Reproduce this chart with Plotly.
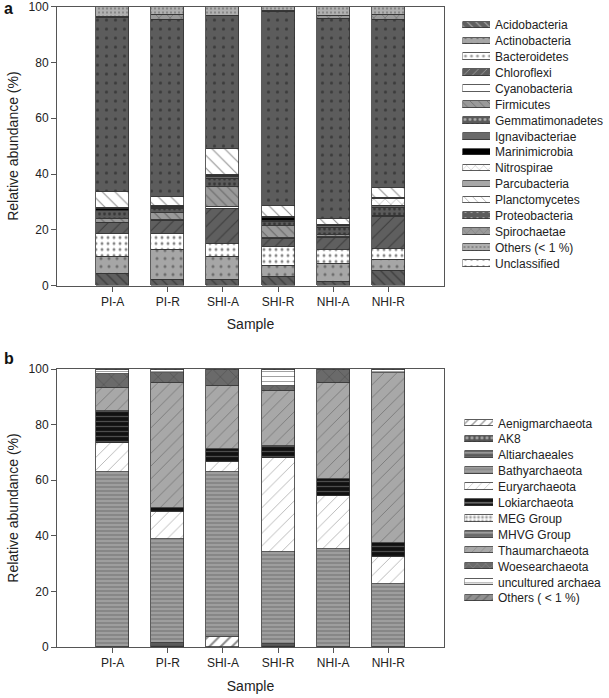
import plotly.graph_objects as go

samples = ["PI-A", "PI-R", "SHI-A", "SHI-R", "NHI-A", "NHI-R"]
y_ticks = [0, 20, 40, 60, 80, 100]

# ---- panel a : bacterial phyla (%), order PI-A, PI-R, SHI-A, SHI-R, NHI-A, NHI-R
acidobacteria = [4.4, 2.4, 2.4, 3.2, 1.5, 5.6]
actinobacteria = [6.2, 10.4, 8.0, 4.2, 6.3, 3.9]
bacteroidetes = [8.1, 6.0, 4.8, 6.8, 5.3, 3.9]
chloroflexi = [3.8, 4.6, 12.5, 2.6, 4.2, 11.5]
cyanobacteria = [0.3, 0.4, 0.5, 0.4, 0.3, 0.2]
firmicutes = [1.4, 2.4, 7.5, 4.5, 0.8, 0.2]
gemmatimonadetes = [2.6, 1.5, 2.6, 1.2, 2.5, 2.8]
ignavibacteriae = [0.3, 0.4, 0.8, 0.3, 0.6, 0.6]
marinimicrobia = [0.5, 0.2, 0.2, 1.4, 0.1, 0.1]
nitrospirae = [0.2, 0.2, 0.2, 0.1, 0.1, 2.3]
parcubacteria = [0.2, 0.3, 0.5, 0.1, 0.2, 0.4]
planctomycetes = [5.6, 3.0, 9.2, 3.8, 2.2, 3.7]
proteobacteria = [62.4, 63.4, 47.4, 69.6, 71.6, 60.0]
spirochaetae = [0.5, 2.1, 0.3, 0.2, 1.0, 2.0]
others_a = [3.5, 2.7, 3.1, 1.6, 3.3, 2.8]
unclassified = [0.0, 0.0, 0.0, 0.0, 0.0, 0.0]

# ---- panel b : archaeal groups (%)
aenigmarchaeota = [0.0, 0.0, 3.5, 0.0, 0.0, 0.0]
ak8 = [0.0, 0.0, 0.0, 0.0, 0.0, 0.0]
altiarchaeales = [0.0, 1.5, 0.0, 1.1, 0.0, 0.0]
bathyarchaeota = [62.8, 37.3, 59.3, 33.2, 35.1, 22.8]
euryarchaeota = [10.7, 9.9, 3.7, 33.8, 19.2, 9.6]
lokiarchaeota = [11.5, 1.2, 4.8, 4.2, 6.3, 5.1]
meg_group = [0.0, 0.0, 0.0, 0.0, 0.0, 0.0]
mhvg_group = [0.0, 0.0, 0.0, 0.0, 0.0, 0.0]
thaumarchaeota = [8.3, 45.2, 22.6, 19.8, 34.5, 61.2]
woesearchaeota = [4.8, 3.3, 5.6, 1.8, 4.6, 0.0]
uncultured_archaea = [1.5, 1.3, 0.0, 5.8, 0.0, 1.0]
others_b = [0.4, 0.3, 0.5, 0.3, 0.3, 0.3]

series_a = [
    ("Acidobacteria", acidobacteria),
    ("Actinobacteria", actinobacteria),
    ("Bacteroidetes", bacteroidetes),
    ("Chloroflexi", chloroflexi),
    ("Cyanobacteria", cyanobacteria),
    ("Firmicutes", firmicutes),
    ("Gemmatimonadetes", gemmatimonadetes),
    ("Ignavibacteriae", ignavibacteriae),
    ("Marinimicrobia", marinimicrobia),
    ("Nitrospirae", nitrospirae),
    ("Parcubacteria", parcubacteria),
    ("Planctomycetes", planctomycetes),
    ("Proteobacteria", proteobacteria),
    ("Spirochaetae", spirochaetae),
    ("Others (< 1 %)", others_a),
    ("Unclassified", unclassified),
]
series_b = [
    ("Aenigmarchaeota", aenigmarchaeota),
    ("AK8", ak8),
    ("Altiarchaeales", altiarchaeales),
    ("Bathyarchaeota", bathyarchaeota),
    ("Euryarchaeota", euryarchaeota),
    ("Lokiarchaeota", lokiarchaeota),
    ("MEG Group", meg_group),
    ("MHVG Group", mhvg_group),
    ("Thaumarchaeota", thaumarchaeota),
    ("Woesearchaeota", woesearchaeota),
    ("uncultured archaea", uncultured_archaea),
    ("Others ( < 1 %)", others_b),
]

# styles: (background colour, pattern shape, pattern colour, pattern size, solidity)
style_a = {
    "Acidobacteria": ("#5f5f5f", "\\", "#1a1a1a", 7, 0.18),
    "Actinobacteria": ("#a6a6a6", ".", "#333333", 8, 0.12),
    "Bacteroidetes": ("#ffffff", ".", "#111111", 6, 0.2),
    "Chloroflexi": ("#5f5f5f", "/", "#1a1a1a", 9, 0.12),
    "Cyanobacteria": ("#ffffff", "", "#000000", 8, 0.2),
    "Firmicutes": ("#9a9a9a", "\\", "#333333", 7, 0.15),
    "Gemmatimonadetes": ("#5a5a5a", ".", "#111111", 5, 0.25),
    "Ignavibacteriae": ("#6a6a6a", "", "#000000", 8, 0.2),
    "Marinimicrobia": ("#000000", "", "#000000", 8, 0.2),
    "Nitrospirae": ("#ffffff", "x", "#222222", 8, 0.12),
    "Parcubacteria": ("#a8a8a8", "", "#000000", 8, 0.2),
    "Planctomycetes": ("#ffffff", "\\", "#222222", 9, 0.12),
    "Proteobacteria": ("#5c5c5c", ".", "#1a1a1a", 9, 0.1),
    "Spirochaetae": ("#9a9a9a", "x", "#222222", 8, 0.12),
    "Others (< 1 %)": ("#b0b0b0", ".", "#444444", 4, 0.2),
    "Unclassified": ("#ffffff", ".", "#333333", 8, 0.1),
}
style_b = {
    "Aenigmarchaeota": ("#ffffff", "/", "#111111", 8, 0.25),
    "AK8": ("#555555", ".", "#ffffff", 5, 0.3),
    "Altiarchaeales": ("#5a5a5a", "-", "#222222", 5, 0.3),
    "Bathyarchaeota": ("#9e9e9e", "-", "#2a2a2a", 4, 0.2),
    "Euryarchaeota": ("#ffffff", "/", "#444444", 9, 0.08),
    "Lokiarchaeota": ("#111111", "-", "#8a8a8a", 5, 0.25),
    "MEG Group": ("#ffffff", ".", "#000000", 4, 0.4),
    "MHVG Group": ("#6a6a6a", "-", "#2a2a2a", 5, 0.25),
    "Thaumarchaeota": ("#a8a8a8", "/", "#333333", 9, 0.08),
    "Woesearchaeota": ("#6a6a6a", "x", "#222222", 11, 0.08),
    "uncultured archaea": ("#ffffff", "-", "#444444", 5, 0.2),
    "Others ( < 1 %)": ("#909090", "/", "#222222", 7, 0.2),
}

W, H = 609, 698
def px_x(a, b):
    return [a / W, b / W]
def px_y(top, bottom):
    return [1 - bottom / H, 1 - top / H]

FONT = "Liberation Sans, Arial, sans-serif"
TXT = "#222222"
AXC = "#555555"
OUTLINE = "#333333"

fig = go.Figure()

def add_panel(series, styles, xa, ya):
    for name, vals in series:
        bg, shp, fg, sz, sol = styles[name]
        fig.add_trace(go.Bar(
            x=samples, y=vals, name=name, width=0.6,
            xaxis=xa, yaxis=ya, showlegend=False,
            marker=dict(color=bg, line=dict(color=OUTLINE, width=0.8),
                        pattern=dict(shape=shp, fgcolor=fg, bgcolor=bg, size=sz,
                                     solidity=sol, fillmode="overlay")),
        ))

def add_key(series, styles, xa, ya):
    names = [n for n, _ in series]
    fig.add_trace(go.Bar(
        y=names, x=[1] * len(names), orientation="h", width=0.42,
        xaxis=xa, yaxis=ya, showlegend=False, hoverinfo="y",
        marker=dict(color=[styles[n][0] for n in names],
                    line=dict(color=OUTLINE, width=0.8),
                    pattern=dict(shape=[styles[n][1] for n in names],
                                 fgcolor=[styles[n][2] for n in names],
                                 bgcolor=[styles[n][0] for n in names],
                                 size=[min(styles[n][3], 6) for n in names],
                                 solidity=[styles[n][4] for n in names],
                                 fillmode="overlay")),
    ))

add_panel(series_a, style_a, "x", "y")
add_panel(series_b, style_b, "x2", "y2")
add_key(series_a, style_a, "x3", "y3")
add_key(series_b, style_b, "x4", "y4")

def main_x(dom_y_anchor):
    return dict(
        domain=px_x(57, 444), anchor=dom_y_anchor, type="category", automargin=False,
        range=[-1.01, 6.01], showline=True, linecolor=AXC, linewidth=1,
        mirror=True, ticks="outside", ticklen=5, tickcolor=AXC,
        showgrid=False, zeroline=False, ticklabeloverflow="allow",
        tickfont=dict(family=FONT, size=12, color=TXT),
        title=dict(text="Sample", font=dict(family=FONT, size=14, color=TXT), standoff=11),
    )

def main_y(dom, anchor):
    return dict(
        domain=dom, anchor=anchor, range=[0, 100], tickvals=y_ticks, automargin=False,
        showline=True, linecolor=AXC, linewidth=1, mirror=True,
        ticks="outside", ticklen=5, tickcolor=AXC, showgrid=False, zeroline=False,
        ticklabeloverflow="allow",
        tickfont=dict(family=FONT, size=12, color=TXT),
        title=dict(text="Relative abundance (%)", font=dict(family=FONT, size=14, color=TXT), standoff=6),
    )

def key_x(dom, anchor):
    return dict(domain=dom, anchor=anchor, range=[0, 1], visible=False,
                fixedrange=True, automargin=False)

def key_y(dom, anchor, n):
    return dict(domain=dom, anchor=anchor, type="category", range=[n - 0.5, -0.5],
                side="right", showline=False, ticks="", showgrid=False, zeroline=False,
                automargin=False, ticklabelstandoff=4, ticklabeloverflow="allow",
                tickfont=dict(family=FONT, size=12, color=TXT))

n_a, n_b = len(series_a), len(series_b)
step = 15.9
fig.update_layout(
    width=W, height=H,
    margin=dict(l=0, r=0, t=0, b=0, autoexpand=False),
    paper_bgcolor="white", plot_bgcolor="white",
    barmode="stack", bargap=0,
    font=dict(family=FONT, color=TXT),
    xaxis=main_x("y"),
    yaxis=main_y(px_y(6.5, 285.7), "x"),
    xaxis2=main_x("y2"),
    yaxis2=main_y(px_y(369, 647), "x2"),
    xaxis3=key_x(px_x(462.5, 490), "y3"),
    yaxis3=key_y(px_y(25 - step / 2, 25 + step * (n_a - 0.5)), "x3", n_a),
    xaxis4=key_x(px_x(464.5, 493), "y4"),
    yaxis4=key_y(px_y(423.3 - step / 2, 423.3 + step * (n_b - 0.5)), "x4", n_b),
    annotations=[
        dict(text="<b>a</b>", x=2 / W, y=1 + 2 / H, xref="paper", yref="paper",
             xanchor="left", yanchor="top", showarrow=False,
             font=dict(family=FONT, size=16, color="#111111")),
        dict(text="<b>b</b>", x=2 / W, y=1 - 348 / H, xref="paper", yref="paper",
             xanchor="left", yanchor="top", showarrow=False,
             font=dict(family=FONT, size=16, color="#111111")),
    ],
)

fig.write_html("out.html", post_script="document.body.style.margin='0';",
               config={"displayModeBar": False})
